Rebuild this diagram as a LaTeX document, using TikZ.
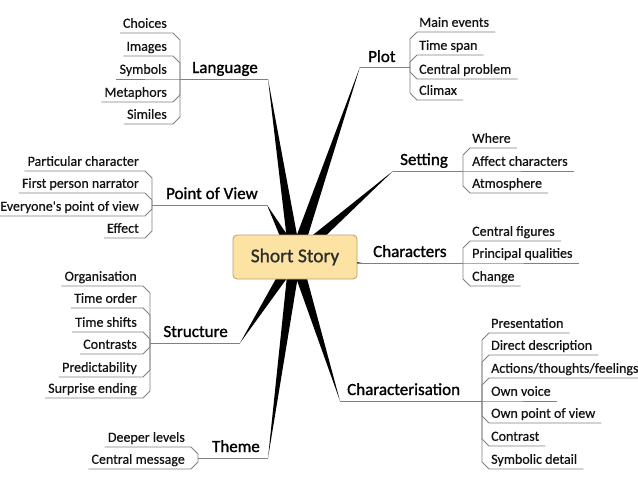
\documentclass[tikz,border=0pt]{standalone}
\usepackage{fontspec}
\setmainfont{Carlito}
\newfontfamily\mmleaffont{Carlito}[FakeBold=0.6]
\newfontfamily\mmtopicfont{Carlito}[FakeBold=1.2]
\newfontfamily\mmcorefont{Carlito}[FakeBold=1.0]
\usetikzlibrary{calc}
\definecolor{boxfill}{RGB}{252,227,163}
\definecolor{boxline}{RGB}{185,160,105}
\definecolor{twiggray}{RGB}{128,128,128}
\definecolor{inkdark}{RGB}{20,20,20}
\definecolor{coreink}{RGB}{45,45,45}
\tikzset{
 twig/.style={draw=twiggray, line width=0.9pt},
 leaf/.style={inner sep=0pt, text depth=5pt, font=\mmleaffont\fontsize{14}{16}\selectfont, text=inkdark},
 topic/.style={inner sep=0pt, font=\mmtopicfont\fontsize{17}{20}\selectfont, text=black},
 core/.style={draw=boxline, fill=boxfill, rounded corners=4pt, minimum width=124pt, minimum height=44pt, font=\mmcorefont\fontsize{19.5}{22}\selectfont, text=coreink, line width=0.8pt},
 spokefill/.style={fill=black}
}
\newcommand\mmspoke[1]{\fill[spokefill] (#1) -- ($(o)!6pt!90:(#1)$) -- ($(o)!6pt!-90:(#1)$) -- cycle;}
\newcommand\mmleafR[6]{%
 \node[leaf, anchor=south west] (#1) at ({#2+9},{#4}) {#6};
 \draw[twig] (#2,#3) -- (#2,{#4+7*(#5)}) -- ({#2+7},#4) -- ([xshift=6pt]#1.south east);}
\newcommand\mmleafL[6]{%
 \node[leaf, anchor=south east] (#1) at ({#2-13},{#4}) {#6};
 \draw[twig] (#2,#3) -- (#2,{#4+7*(#5)}) -- ({#2-7},#4) -- ([xshift=-3pt]#1.south west);}
\begin{document}
\begin{tikzpicture}[x=1pt,y=-1pt]
\useasboundingbox (0,0) rectangle (638,479);
\coordinate (o) at (295,257);
% spoke end points
\coordinate (langE) at (268,79);
\coordinate (plotE) at (360,67);
\coordinate (povE) at (267,205);
\coordinate (setE) at (393,171);
\coordinate (charE) at (362,263);
\coordinate (strE) at (240,343);
\coordinate (chsE) at (340,401);
\coordinate (themeE) at (268,458);
% bracket points
\coordinate (langB) at (180,79);
\coordinate (plotB) at (410,67);
\coordinate (povB) at (152,205);
\coordinate (setB) at (463,171);
\coordinate (charB) at (463,263);
\coordinate (strB) at (150,343);
\coordinate (chsB) at (482,401);
\coordinate (themeB) at (198,458);
% spokes
\mmspoke{langE}
\mmspoke{plotE}
\mmspoke{povE}
\mmspoke{setE}
\mmspoke{charE}
\mmspoke{strE}
\mmspoke{chsE}
\mmspoke{themeE}
% centre
\node[core] (c) at (o) {Short Story};
% main underlines
\draw[twig] (langB) -- (langE);
\draw[twig] (plotE) -- (plotB);
\draw[twig] (povB) -- (povE);
\draw[twig] (setE) -- (setB);
\draw[twig] (c.east |- charE) -- (charB);
\draw[twig] (strB) -- (strE);
\draw[twig] (chsE) -- (chsB);
\draw[twig] (themeB) -- (themeE);
% topics
\node[topic, anchor=base east] (lang) at (258,73) {Language};
\node[topic, anchor=base west] (plot) at (368,62) {Plot};
\node[topic, anchor=base east] (pov) at (258,199) {Point of View};
\node[topic, anchor=base west] (set) at (400,165) {Setting};
\node[topic, anchor=base west] (char) at (373,257) {Characters};
\node[topic, anchor=base east] (str) at (228,337) {Structure};
\node[topic, anchor=base west] (chs) at (347,395) {Characterisation};
\node[topic, anchor=base east] (theme) at (260,452) {Theme};
% Language
\mmleafL{l1}{180}{79}{33}{1}{Choices}
\mmleafL{l2}{180}{79}{56}{1}{Images}
\mmleafL{l3}{180}{79}{79}{0}{Symbols}
\mmleafL{l4}{180}{79}{102}{-1}{Metaphors}
\mmleafL{l5}{180}{79}{124}{-1}{Similes}
% Plot
\mmleafR{p1}{410}{67}{32}{1}{Main events}
\mmleafR{p2}{410}{67}{55}{1}{Time span}
\mmleafR{p3}{410}{67}{79}{-1}{Central problem}
\mmleafR{p4}{410}{67}{100}{-1}{Climax}
% Point of view
\mmleafL{v1}{152}{205}{171}{1}{Particular character}
\mmleafL{v2}{152}{205}{193}{1}{First person narrator}
\mmleafL{v3}{152}{205}{216}{-1}{Everyone\textquotesingle s point of view}
\mmleafL{v4}{152}{205}{238}{-1}{Effect}
% Setting
\mmleafR{s1}{463}{171}{148}{1}{Where}
\mmleafR{s2}{463}{171}{171}{0}{Affect characters}
\mmleafR{s3}{463}{171}{193}{-1}{Atmosphere}
% Characters
\mmleafR{c1}{463}{263}{241}{1}{Central figures}
\mmleafR{c2}{463}{263}{263}{0}{Principal qualities}
\mmleafR{c3}{463}{263}{286}{-1}{Change}
% Structure
\mmleafL{t1}{150}{343}{286}{1}{Organisation}
\mmleafL{t2}{150}{343}{308}{1}{Time order}
\mmleafL{t3}{150}{343}{332}{1}{Time shifts}
\mmleafL{t4}{150}{343}{354}{-1}{Contrasts}
\mmleafL{t5}{150}{343}{377}{-1}{Predictability}
\mmleafL{t6}{150}{343}{398}{-1}{Surprise ending}
% Characterisation
\mmleafR{h1}{482}{401}{333}{1}{Presentation}
\mmleafR{h2}{482}{401}{355}{1}{Direct description}
\mmleafR{h3}{482}{401}{378}{1}{Actions/thoughts/feelings}
\mmleafR{h4}{482}{401}{401}{0}{Own voice}
\mmleafR{h5}{482}{401}{423}{-1}{Own point of view}
\mmleafR{h6}{482}{401}{446}{-1}{Contrast}
\mmleafR{h7}{482}{401}{469}{-1}{Symbolic detail}
% Theme
\mmleafL{m1}{198}{458}{447}{1}{Deeper levels}
\mmleafL{m2}{198}{458}{469}{-1}{Central message}
\end{tikzpicture}
\end{document}
